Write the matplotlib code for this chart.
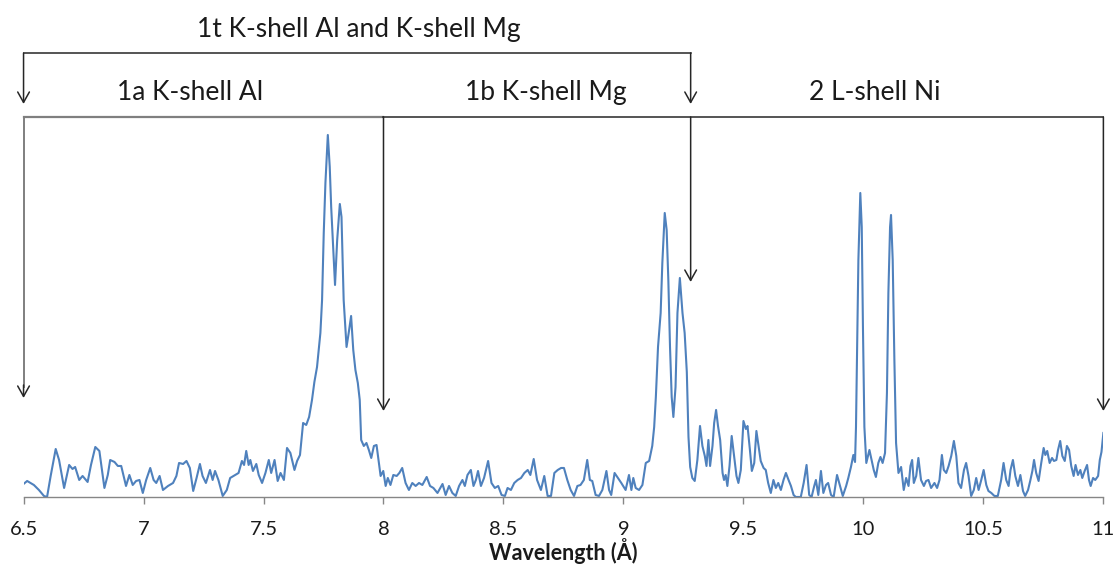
import matplotlib.pyplot as plt

# Spectrum: wavelength (Å) and intensity (arb. units)
wavelength = [
    6.500, 6.515, 6.543, 6.564, 6.585, 6.598, 6.613, 6.634, 6.648, 6.669,
    6.690, 6.704, 6.715, 6.732, 6.746, 6.767, 6.781, 6.799, 6.816, 6.837,
    6.851, 6.861, 6.879, 6.893, 6.907, 6.927, 6.941, 6.955, 6.969, 6.983,
    6.997, 7.011, 7.028, 7.042, 7.053, 7.067, 7.081, 7.102, 7.123, 7.137,
    7.148, 7.165, 7.179, 7.193, 7.207, 7.221, 7.235, 7.246, 7.260, 7.277,
    7.288, 7.298, 7.312, 7.330, 7.347, 7.361, 7.375, 7.396, 7.410, 7.419,
    7.428, 7.438, 7.445, 7.456, 7.470, 7.480, 7.494, 7.508, 7.522, 7.532,
    7.546, 7.559, 7.571, 7.585, 7.598, 7.612, 7.629, 7.640, 7.652, 7.665,
    7.678, 7.690, 7.702, 7.712, 7.723, 7.737, 7.744, 7.751, 7.758, 7.768,
    7.776, 7.782, 7.790, 7.798, 7.807, 7.818, 7.825, 7.834, 7.846, 7.855,
    7.865, 7.874, 7.883, 7.893, 7.901, 7.907, 7.918, 7.929, 7.939, 7.949,
    7.960, 7.971, 7.981, 7.988, 7.999, 8.009, 8.018, 8.029, 8.041, 8.055,
    8.066, 8.078, 8.092, 8.106, 8.120, 8.134, 8.148, 8.162, 8.180, 8.194,
    8.208, 8.225, 8.246, 8.259, 8.273, 8.287, 8.301, 8.315, 8.329, 8.339,
    8.350, 8.364, 8.375, 8.385, 8.394, 8.406, 8.419, 8.436, 8.450, 8.464,
    8.478, 8.492, 8.506, 8.517, 8.531, 8.545, 8.559, 8.573, 8.587, 8.601,
    8.612, 8.626, 8.640, 8.656, 8.670, 8.684, 8.698, 8.712, 8.726, 8.740,
    8.752, 8.766, 8.780, 8.794, 8.808, 8.821, 8.835, 8.849, 8.860, 8.870,
    8.884, 8.898, 8.912, 8.929, 8.940, 8.949, 8.963, 8.977, 8.991, 9.009,
    9.023, 9.033, 9.041, 9.051, 9.065, 9.079, 9.093, 9.107, 9.120, 9.128,
    9.135, 9.144, 9.155, 9.162, 9.172, 9.180, 9.187, 9.194, 9.201, 9.208,
    9.217, 9.225, 9.235, 9.246, 9.255, 9.264, 9.271, 9.278, 9.287, 9.297,
    9.308, 9.319, 9.329, 9.339, 9.346, 9.354, 9.361, 9.371, 9.378, 9.386,
    9.394, 9.403, 9.413, 9.419, 9.426, 9.433, 9.442, 9.451, 9.461, 9.471,
    9.479, 9.489, 9.500, 9.510, 9.517, 9.527, 9.535, 9.545, 9.554, 9.563,
    9.572, 9.584, 9.593, 9.603, 9.614, 9.625, 9.635, 9.645, 9.656, 9.667,
    9.677, 9.688, 9.698, 9.709, 9.718, 9.739, 9.751, 9.763, 9.774, 9.784,
    9.795, 9.802, 9.812, 9.823, 9.833, 9.844, 9.853, 9.865, 9.876, 9.890,
    9.899, 9.914, 9.928, 9.937, 9.948, 9.958, 9.965, 9.969, 9.973, 9.979,
    9.987, 9.993, 9.998, 10.004, 10.012, 10.025, 10.034, 10.043, 10.052, 10.062,
    10.071, 10.080, 10.090, 10.098, 10.104, 10.111, 10.115, 10.122, 10.129, 10.136,
    10.146, 10.157, 10.168, 10.178, 10.188, 10.196, 10.203, 10.210, 10.220, 10.229,
    10.240, 10.252, 10.261, 10.271, 10.282, 10.296, 10.307, 10.317, 10.327, 10.335,
    10.345, 10.355, 10.366, 10.377, 10.387, 10.396, 10.407, 10.419, 10.428, 10.438,
    10.449, 10.460, 10.470, 10.480, 10.491, 10.501, 10.512, 10.521, 10.533, 10.546,
    10.560, 10.574, 10.584, 10.595, 10.605, 10.613, 10.623, 10.633, 10.644, 10.654,
    10.665, 10.674, 10.686, 10.695, 10.704, 10.711, 10.720, 10.730, 10.741, 10.751,
    10.758, 10.766, 10.776, 10.786, 10.794, 10.804, 10.811, 10.820, 10.829, 10.839,
    10.848, 10.857, 10.866, 10.876, 10.884, 10.894, 10.904, 10.912, 10.922, 10.932,
    10.940, 10.947, 10.957, 10.966, 10.978, 10.985, 10.992, 11.000,
]
intensity = [
    13, 16, 12, 7, 1, 0, 21, 48, 37, 9,
    32, 28, 30, 17, 21, 15, 32, 50, 46, 9,
    22, 37, 35, 31, 31, 11, 22, 12, 16, 17,
    4, 17, 29, 17, 14, 21, 7, 11, 14, 21,
    34, 33, 36, 29, 6, 19, 33, 21, 14, 27,
    17, 26, 17, 1, 7, 19, 21, 24, 36, 32,
    46, 32, 37, 26, 33, 22, 14, 24, 37, 24,
    37, 16, 24, 17, 49, 44, 27, 36, 42, 74,
    72, 80, 97, 115, 130, 164, 197, 264, 314, 362,
    330, 290, 250, 212, 257, 293, 280, 197, 150, 164,
    181, 147, 127, 114, 97, 57, 51, 54, 47, 39,
    51, 52, 34, 21, 26, 11, 19, 12, 22, 21,
    24, 29, 14, 7, 14, 11, 14, 12, 20, 11,
    9, 4, 13, 2, 11, 4, 1, 11, 17, 11,
    22, 27, 11, 17, 26, 11, 19, 36, 14, 9,
    11, 2, 1, 9, 7, 14, 17, 19, 24, 27,
    22, 38, 17, 7, 21, 1, 1, 24, 27, 29,
    29, 17, 7, 1, 11, 12, 17, 37, 17, 16,
    2, 1, 7, 26, 7, 2, 24, 19, 14, 7,
    22, 7, 19, 9, 7, 12, 34, 36, 51, 70,
    100, 150, 184, 234, 284, 267, 217, 150, 100, 80,
    110, 184, 219, 184, 164, 125, 60, 30, 19, 16,
    37, 71, 51, 41, 31, 57, 31, 51, 74, 87,
    71, 57, 24, 17, 22, 11, 31, 61, 41, 21,
    14, 27, 76, 68, 71, 47, 26, 34, 66, 51,
    36, 29, 27, 14, 4, 17, 9, 14, 7, 17,
    24, 17, 11, 2, 0, 0, 14, 32, 2, 0,
    11, 17, 2, 26, 4, 12, 14, 2, 0, 22,
    14, 1, 11, 19, 30, 42, 35, 70, 137, 237,
    304, 270, 170, 70, 34, 47, 37, 27, 20, 34,
    40, 34, 44, 104, 204, 270, 282, 237, 137, 54,
    24, 30, 7, 19, 11, 31, 37, 14, 21, 39,
    17, 11, 16, 17, 9, 14, 9, 17, 42, 27,
    24, 31, 41, 56, 41, 14, 9, 27, 34, 21,
    1, 7, 19, 7, 17, 27, 12, 6, 4, 1,
    1, 17, 34, 17, 11, 27, 37, 21, 11, 22,
    6, 1, 7, 16, 26, 37, 24, 16, 34, 49,
    42, 46, 34, 39, 36, 37, 47, 56, 41, 36,
    51, 47, 31, 21, 32, 22, 27, 19, 26, 32,
    17, 11, 19, 17, 21, 37, 45, 64,
]

x_ticks = [6.5, 7, 7.5, 8, 8.5, 9, 9.5, 10, 10.5, 11]
x_tick_labels = ["6.5", "7", "7.5", "8", "8.5", "9", "9.5", "10", "10.5", "11"]

# Region boundaries (Å)
edge_al = 6.5
edge_mg = 8.0
edge_ni = 9.28
edge_end = 11.0

plt.rcParams["font.family"] = ["Lato", "DejaVu Sans"]

fig = plt.figure(figsize=(11.16, 5.67), dpi=100)
ax = fig.add_axes([0.0211, 0.1235, 0.9676, 0.6702])

ax.plot(wavelength, intensity, color="#4F81BD", lw=1.5, solid_joinstyle="round")

ax.set_xlim(6.5, 11.0)
ax.set_ylim(0, 380)
ax.set_xticks(x_ticks)
ax.set_xticklabels(x_tick_labels)
ax.set_yticks([])
for side in ["left", "top", "right"]:
    ax.spines[side].set_visible(False)
ax.spines["bottom"].set_color("#868686")
ax.spines["bottom"].set_linewidth(1.0)
ax.tick_params(axis="x", direction="out", length=5, width=1.0, color="#868686",
               labelsize=14.5, labelcolor="#1a1a1a", pad=12)
ax.set_xlabel("Wavelength (Å)", fontsize=15.5, fontweight="bold", color="#1a1a1a",
              labelpad=0)

line_col = "#262626"


def drop_arrow(x, y_top, y_tip, color=line_col):
    ax.annotate("", xy=(x, y_tip), xytext=(x, y_top),
                arrowprops=dict(arrowstyle="->,head_length=0.75,head_width=0.42",
                                color=color, lw=1.1, shrinkA=0, shrinkB=0),
                annotation_clip=False)


# Outer bracket: Al + Mg
ax.plot([edge_al, edge_ni], [444, 444], color=line_col, lw=1.1, clip_on=False)
drop_arrow(edge_al, 444, 393)
drop_arrow(edge_ni, 444, 393)

# Inner brackets: Al, Mg, Ni
ax.plot([edge_al, edge_mg], [380, 380], color="#7f7f7f", lw=1.6, clip_on=False)
ax.plot([edge_mg, edge_end], [380, 380], color=line_col, lw=1.1, clip_on=False)
ax.plot([edge_al, edge_al], [380, 110], color="#7f7f7f", lw=1.4, clip_on=False)
drop_arrow(edge_al, 112, 99)
drop_arrow(edge_mg, 380, 86)
drop_arrow(edge_ni, 380, 215)
drop_arrow(edge_end, 380, 86)

text_kw = dict(ha="center", va="center", fontsize=19, color="#1a1a1a")
ax.text(7.896, 467, "1t K-shell Al and K-shell Mg", **text_kw)
ax.text(7.195, 404, "1a K-shell Al", **text_kw)
ax.text(8.675, 404, "1b K-shell Mg", **text_kw)
ax.text(10.048, 404, "2 L-shell Ni", **text_kw)

fig.savefig("out.png", dpi=100)
